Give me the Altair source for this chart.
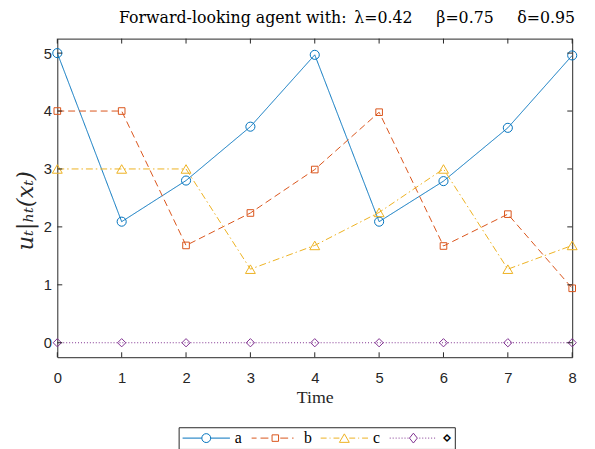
import altair as alt
import pandas as pd

# ---------------- data ----------------
TIME = [0, 1, 2, 3, 4, 5, 6, 7, 8]
SERIES = ["a", "b", "c", "⋄"]
A = [5.0, 2.09, 2.80, 3.73, 4.97, 2.09, 2.79, 3.71, 4.96]
B = [4.0, 4.0, 1.68, 2.24, 2.99, 3.98, 1.67, 2.22, 0.94]
C = [3.0, 3.0, 3.0, 1.27, 1.68, 2.25, 3.0, 1.27, 1.68]
D = [0, 0, 0, 0, 0, 0, 0, 0, 0]
X_TICKS = [0, 1, 2, 3, 4, 5, 6, 7, 8]
Y_TICKS = [0, 1, 2, 3, 4, 5]
TITLE = "Forward-looking agent with:\u2002λ=0.42\u2003\u2002β=0.75\u2003\u2002δ=0.95"
X_TITLE = "Time"
Y_TITLE = "uₜ|ₕₜ(xₜ)"

# ---------------- style ----------------
COLORS = ["#0072BD", "#D95319", "#EDB120", "#7E2F8E"]
DASHES = [[1, 0], [7, 4], [7, 3, 1.5, 3], [1, 2]]
SHAPES = ["circle", "square", "triangle-up", "diamond"]
SIZES = [85, 45, 100, 70]
AX = "#262626"
W, H = 522, 323
TICK = 5
SANS = "Liberation Sans"
SERIF = "Liberation Serif"
TSERIF = "DejaVu Serif"


def seg(x0, x1):
    return f"M{x0},0H{x1}"


circle = "M4.5,0A4.5,4.5,0,1,1,-4.5,0A4.5,4.5,0,1,1,4.5,0"
square = "M-3.3,-3.3H3.3V3.3H-3.3Z"
tri = "M0,-4.3L5,4.3H-5Z"
diam = "M-4,0L0,-5L4,0L0,5Z"
P_A = seg(-24, -4.5) + seg(4.5, 24) + circle
P_B = seg(-24, -19) + seg(-15, -7) + square + seg(5, 13) + seg(17, 18.5)
P_C = seg(-24, -18) + seg(-15, -14) + seg(-11, -5) + tri + seg(5, 11) + seg(14, 15) + seg(18, 24)
P_D = "".join(seg(x, x + 1) for x in range(-24, -5, 3)) + diam + "".join(seg(x, x + 1) for x in range(6, 24, 3))
PATHS = [P_A, P_B, P_C, P_D]

rows = []
for name, vals in zip(SERIES, [A, B, C, D]):
    for t, v in zip(TIME, vals):
        rows.append({"t": t, "u": v, "series": name})
df = pd.DataFrame(rows)
xt = pd.DataFrame({"t": X_TICKS})
yt = pd.DataFrame({"u": Y_TICKS})

xs = alt.Scale(domain=[0, 8], nice=False, zero=False)
ys = alt.Scale(domain=[-0.25, 5.25], nice=False, zero=False)

x_axis = alt.Axis(values=X_TICKS, format="d", ticks=False, tickSize=0, domain=False, grid=False,
                  labelFlush=False, labelFont=SANS, labelFontSize=15, labelColor=AX,
                  labelPadding=14,
                  title=X_TITLE, titleFont=SERIF, titleFontSize=18, titleFontWeight="normal",
                  titleColor=AX, titleBaseline="alphabetic", titleY=46)
y_axis = alt.Axis(values=Y_TICKS, format="d", ticks=False, tickSize=0, domain=False, grid=False,
                  labelFlush=False, labelFont=SANS, labelFontSize=15, labelColor=AX,
                  labelPadding=6,
                  title=Y_TITLE, titleFont=TSERIF, titleFontSize=23, titleFontWeight="normal",
                  titleFontStyle="italic", titleColor=AX, titleAngle=270,
                  titleAlign="center", titleBaseline="alphabetic", titleX=-25, titleY=174)

X = alt.X("t:Q", scale=xs)
Y = alt.Y("u:Q", scale=ys)

base = alt.Chart(df).mark_line(opacity=0).encode(
    x=alt.X("t:Q", scale=xs, axis=x_axis),
    y=alt.Y("u:Q", scale=ys, axis=y_axis),
    detail="series:N",
)

lines, points = [], []
for i, name in enumerate(SERIES):
    lines.append(
        alt.Chart(df).transform_filter(alt.datum.series == name)
        .mark_line(strokeWidth=1, color=COLORS[i], strokeDash=DASHES[i], clip=False)
        .encode(x=X, y=Y)
    )
    points.append(
        alt.Chart(df).transform_filter(alt.datum.series == name)
        .mark_point(shape=SHAPES[i], size=SIZES[i], filled=False, strokeWidth=1,
                    color=COLORS[i], opacity=1, clip=False)
        .encode(x=X, y=Y)
    )

leg = alt.Legend(orient="none", legendX=123, legendY=394, direction="horizontal", title=None,
                 strokeColor=AX, fillColor="white", padding=3, labelFont=SERIF, labelFontSize=16,
                 labelColor="black", symbolSize=4, symbolStrokeWidth=1, symbolOffset=17,
                 labelOffset=21, columnPadding=7, symbolOpacity=1)
legend_layer = alt.Chart(df).transform_filter("datum.t < 0").mark_point(
    filled=False, strokeWidth=1).encode(
    x=X, y=Y,
    stroke=alt.Stroke("series:N", scale=alt.Scale(domain=SERIES, range=COLORS), legend=leg),
    shape=alt.Shape("series:N", scale=alt.Scale(domain=SERIES, range=PATHS), legend=leg),
)


def xtick(y0, y1):
    return alt.Chart(xt).mark_rule(color=AX, strokeWidth=1).encode(
        x=X, y=alt.value(y0), y2=alt.value(y1))


def ytick(x0, x1):
    return alt.Chart(yt).mark_rule(color=AX, strokeWidth=1).encode(
        y=Y, x=alt.value(x0), x2=alt.value(x1))


ticks = [xtick(H, H - TICK), xtick(0, TICK), ytick(0, TICK), ytick(W, W - TICK)]

chart = alt.layer(base, *lines, *points, legend_layer, *ticks).properties(
    width=W, height=H,
    title=alt.Title(TITLE, font=TSERIF, fontSize=16, fontWeight="normal", anchor="end",
                    frame="group", dx=3, offset=12, color="black"),
    padding={"left": 50, "top": 28, "right": 15, "bottom": 90},
    autosize=alt.AutoSizeParams(type="none"),
).configure_view(stroke=AX, strokeWidth=1)

chart.save("out.html", embed_options={"renderer": "svg", "actions": False})
